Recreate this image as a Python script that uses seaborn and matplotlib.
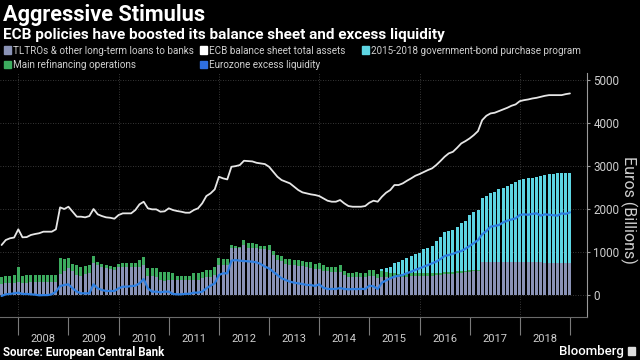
import numpy as np
import pandas as pd
import matplotlib
matplotlib.use("Agg")
import matplotlib.pyplot as plt
from matplotlib import font_manager
from matplotlib.patches import Rectangle
import seaborn as sns

# month-end observations, Aug 2007 - Dec 2018 (billions of euros)
months = pd.period_range("2007-08", "2018-12", freq="M")

ltro = [240, 260, 265, 265, 290,
        270, 270, 285, 290, 290, 295, 300, 300, 300, 480, 560, 617,
        540, 450, 440, 480, 500, 730, 700, 640, 620, 600, 580, 640,
        650, 650, 640, 640, 640, 700, 430, 430, 410, 330, 320, 330,
        330, 330, 330, 330, 330, 350, 350, 380, 400, 420, 460, 700,
        700, 700, 1090, 1090, 1090, 1150, 1090, 1090, 1080, 1070, 1060, 1040,
        920, 800, 780, 720, 700, 680, 670, 660, 640, 630, 600, 600,
        560, 540, 530, 520, 520, 450, 410, 400, 400, 400, 400, 440,
        430, 380, 400, 400, 400, 420, 420, 420, 420, 430, 430, 440,
        440, 440, 440, 450, 460, 480, 480, 480, 500, 510, 520, 535,
        540, 550, 760, 765, 765, 765, 765, 765, 762, 760, 760, 760,
        760, 760, 760, 755, 750, 745, 740, 740, 735, 735, 730, 730]

mro = [165, 182, 180, 185, 354,
       172, 180, 177, 160, 160, 160, 152, 152, 155, 366, 269, 235,
       167, 241, 204, 195, 180, 170, 68, 67, 60, 75, 72, 82,
       77, 77, 87, 98, 175, 170, 199, 182, 202, 205, 200, 197,
       167, 105, 105, 105, 105, 155, 155, 147, 175, 160, 177, 153,
       122, 122, 66, 50, 19, 122, 120, 120, 91, 62, 72, 116,
       104, 116, 120, 110, 122, 127, 130, 135, 130, 123, 120, 130,
       130, 112, 115, 125, 163, 100, 95, 112, 120, 115, 115, 140,
       150, 110, 140, 120, 100, 90, 70, 70, 70, 70, 70, 70,
       60, 60, 60, 55, 50, 45, 45, 40, 40, 35, 35, 35,
       30, 25, 5, 3, 3, 3, 3, 3, 3, 3, 3, 3,
       3, 3, 3, 3, 3, 3, 3, 3, 3, 5, 5, 5]

bonds = [0, 0, 0, 0, 0,
         0, 0, 0, 0, 0, 0, 0, 0, 0, 0, 0, 0,
         0, 0, 0, 0, 0, 0, 0, 0, 0, 0, 0, 0,
         0, 0, 0, 0, 0, 0, 0, 0, 0, 0, 0, 0,
         0, 0, 0, 0, 0, 0, 0, 0, 0, 0, 0, 0,
         0, 0, 0, 0, 0, 0, 0, 0, 0, 0, 0, 0,
         0, 0, 0, 0, 0, 0, 0, 0, 0, 0, 0, 0,
         0, 0, 0, 0, 0, 0, 0, 0, 0, 0, 0, 0,
         0, 0, 50, 110, 152, 235, 278, 317, 356, 400, 447, 467,
         556, 580, 633, 751, 825, 941, 965, 985, 1042, 1115, 1167, 1284,
         1346, 1395, 1492, 1535, 1590, 1628, 1683, 1706, 1763, 1812, 1866, 1897,
         1920, 1944, 1959, 1987, 2015, 2036, 2057, 2072, 2084, 2090, 2103, 2107]

assets = [1156, 1272, 1312, 1330, 1521,
          1335, 1340, 1389, 1412, 1430, 1466, 1466, 1466, 1521, 2032, 1994, 2047,
          1931, 1815, 1815, 1800, 1830, 1994, 1870, 1830, 1800, 1790, 1768, 1854,
          1893, 1893, 1893, 1970, 2103, 2163, 2010, 1986, 1986, 1931, 1940, 2010,
          1970, 1947, 1931, 1908, 1908, 1970, 2010, 2125, 2296, 2358, 2451, 2745,
          2707, 2683, 2977, 2992, 3017, 3117, 3110, 3102, 3070, 3055, 3040, 2977,
          2861, 2745, 2668, 2630, 2591, 2512, 2435, 2381, 2358, 2335, 2320, 2296,
          2242, 2187, 2164, 2164, 2203, 2125, 2063, 2047, 2047, 2047, 2063, 2140,
          2187, 2164, 2280, 2373, 2435, 2552, 2552, 2591, 2652, 2707, 2768, 2807,
          2854, 2900, 2940, 3017, 3110, 3210, 3289, 3326, 3419, 3521, 3575, 3638,
          3715, 3808, 4063, 4164, 4219, 4235, 4273, 4312, 4350, 4397, 4429, 4505,
          4528, 4544, 4567, 4582, 4606, 4629, 4645, 4645, 4645, 4645, 4668, 4684]

excess = [-30, 8, 16, 31, 47,
          16, 16, 8, 0, -15, -10, -10, 8, 70, 200, 225, 240,
          147, 70, 31, 31, 31, 240, 147, 109, 85, 85, 85, 147,
          186, 186, 200, 209, 263, 364, 147, 70, 70, 54, 70, 70,
          16, 8, 8, 20, 20, 47, 47, 70, 147, 209, 263, 457,
          497, 497, 791, 806, 791, 783, 775, 768, 752, 714, 652, 612,
          535, 457, 380, 341, 302, 279, 263, 248, 225, 225, 202, 240,
          163, 132, 132, 132, 155, 132, 124, 130, 130, 135, 130, 209,
          194, 132, 279, 330, 381, 420, 440, 458, 500, 535, 575, 612,
          650, 690, 730, 768, 830, 900, 923, 950, 990, 1016, 1070, 1133,
          1200, 1272, 1404, 1480, 1582, 1600, 1621, 1680, 1722, 1750, 1777, 1854,
          1870, 1860, 1880, 1893, 1839, 1870, 1860, 1850, 1839, 1893, 1880, 1916]

years = list(range(2008, 2019))
yticks = [0, 1000, 2000, 3000, 4000, 5000]

GREY = "#8a93b6"
GREEN = "#3cab5e"
CYAN = "#5dd5e2"
BLUE = "#2f7fe0"
WHITE = "#e6e6e6"
TXT = "#cfcfcf"

df = pd.DataFrame({
    "x": months.year + months.month / 12.0,   # month end as decimal year
    "ltro": ltro, "mro": mro, "bonds": bonds,
    "assets": assets, "excess": excess,
})
df["lower2"] = df["ltro"] + df["mro"]
df["top"] = df["lower2"] + df["bonds"]

sns.set_theme(style="dark", rc={"axes.facecolor": "black", "figure.facecolor": "black"})
plt.rcParams["font.family"] = ["Roboto", "DejaVu Sans"]

names = {f.name for f in font_manager.fontManager.ttflist}
if "Liberation Sans Narrow" in names:
    leg_font, leg_size = ["Liberation Sans Narrow", "DejaVu Sans"], 8
else:
    leg_font, leg_size = ["Roboto", "DejaVu Sans"], 7.1

fig = plt.figure(figsize=(6.4, 3.6), dpi=100, facecolor="black")
ax = fig.add_axes([0, 43 / 360, 587 / 640, 244 / 360])
ax.set_facecolor("black")

# stacked bars drawn as overlapping cumulative layers
bar_kw = dict(native_scale=True, width=0.72, saturation=1, linewidth=0,
              errorbar=None, orient="x", ax=ax)
sns.barplot(data=df, x="x", y="top", color=CYAN, **bar_kw)
sns.barplot(data=df, x="x", y="lower2", color=GREEN, **bar_kw)
sns.barplot(data=df, x="x", y="ltro", color=GREY, **bar_kw)

sns.lineplot(data=df, x="x", y="assets", color=WHITE, linewidth=1.3, ax=ax)
sns.lineplot(data=df, x="x", y="excess", color=BLUE, linewidth=1.6, ax=ax)

ax.set_xlim(2007.635, 2019.34)
ax.set_ylim(-520, 5160)
ax.set_xlabel("")
ax.set_ylabel("")

# grid
for v in yticks:
    ax.axhline(v, color="#4a4a4a", lw=0.6, ls=(0, (1, 2)), zorder=0)
for yr in years[::2]:
    ax.axvline(yr, color="#4a4a4a", lw=0.6, ls=(0, (1, 2)), zorder=0)
ax.grid(False)

# y axis on the right
ax.yaxis.tick_right()
ax.set_yticks(yticks)
ax.set_yticklabels([str(v) for v in yticks])
ax.tick_params(axis="y", colors="#9a9a9a", labelcolor=TXT, labelsize=8.4,
               length=2.5, width=0.8, pad=2, left=False, right=True)

# x axis: separators at year boundaries, labels centred in each year
ax.set_xticks(years + [2019])
ax.set_xticklabels([""] * (len(years) + 1))
ax.set_xticks([y + 0.5 for y in years], minor=True)
ax.set_xticklabels([str(y) for y in years], minor=True)
ax.tick_params(axis="x", which="major", colors="#7a7a7a", length=13, width=0.8,
               direction="out", bottom=True)
ax.tick_params(axis="x", which="minor", length=0, labelcolor=TXT, labelsize=8,
               pad=12, bottom=True)

for s in ["left", "top"]:
    ax.spines[s].set_visible(False)
ax.spines["right"].set_color("#9a9a9a")
ax.spines["right"].set_linewidth(0.8)
ax.spines["bottom"].set_color("#6a6a6a")
ax.spines["bottom"].set_linewidth(0.8)

fig.text(629 / 640, 1 - 210 / 360, "Euros (Billions)", rotation=270, color=TXT,
         fontsize=11.5, ha="center", va="center")

# titles
fig.text(3 / 640, 1 - 21 / 360, "Aggressive Stimulus", color="white",
         fontsize=15.7, fontweight="bold", va="baseline")
fig.text(3 / 640, 1 - 39.5 / 360,
         "ECB policies have boosted its balance sheet and excess liquidity",
         color="white", fontsize=11, fontweight="bold", va="baseline")

# legend
legend_items = [
    (4, 46.5, GREY, "TLTROs & other long-term loans to banks"),
    (4, 61, GREEN, "Main refinancing operations"),
    (200, 46.5, "#ffffff", "ECB balance sheet total assets"),
    (200, 61, "#2f6fe0", "Eurozone excess liquidity"),
    (362, 46.5, CYAN, "2015-2018 government-bond purchase program"),
]
for px, py, col, label in legend_items:
    fig.patches.append(Rectangle((px / 640, 1 - (py + 7) / 360), 7 / 640, 7 / 360,
                                 transform=fig.transFigure, color=col))
    fig.text((px + 9) / 640, 1 - (py + 7) / 360, label, color=TXT,
             fontsize=leg_size, family=leg_font, va="baseline")

# footer
fig.text(3 / 640, 1 - 356 / 360, "Source: European Central Bank", color="white",
         fontsize=8.3, fontweight="bold", va="baseline")
fig.text(624 / 640, 1 - 355 / 360, "Bloomberg", color="white", fontsize=9.5,
         fontweight="medium", ha="right", va="baseline")
fig.patches.append(Rectangle((628 / 640, 1 - 355 / 360), 7 / 640, 8 / 360,
                             transform=fig.transFigure, color="#dddddd"))

fig.savefig("out.png", dpi=100, facecolor="black")
